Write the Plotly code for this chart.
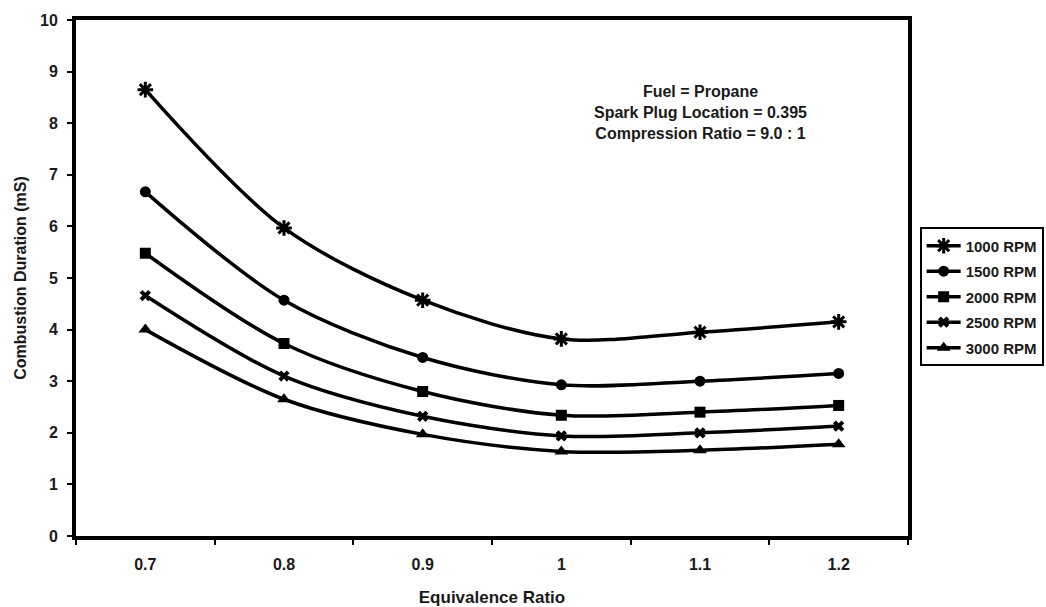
import plotly.graph_objects as go

# Equivalence ratio categories (x axis)
equivalence_ratio = ["0.7", "0.8", "0.9", "1", "1.1", "1.2"]

# Combustion duration (mS) per engine speed
rpm_1000 = [8.65, 5.97, 4.57, 3.82, 3.95, 4.15]
rpm_1500 = [6.67, 4.57, 3.46, 2.93, 3.00, 3.15]
rpm_2000 = [5.48, 3.73, 2.80, 2.34, 2.40, 2.53]
rpm_2500 = [4.66, 3.10, 2.32, 1.94, 2.00, 2.13]
rpm_3000 = [4.00, 2.65, 1.97, 1.64, 1.66, 1.78]

series_names = ["1000 RPM", "1500 RPM", "2000 RPM", "2500 RPM", "3000 RPM"]
series_values = [rpm_1000, rpm_1500, rpm_2000, rpm_2500, rpm_3000]

y_ticks = list(range(0, 11))

# marker style per series: (symbol, size, outline width)
marker_styles = [
    ("asterisk-open", 13, 3),
    ("circle", 11, 0),
    ("square", 11, 0),
    ("x", 10, 0),
    ("triangle-up", 12, 0),
]

FONT = "Liberation Sans, Arial, sans-serif"
INK = "#1a1a1a"


def bold(size):
    return dict(family=FONT, size=size, color=INK, weight="bold")


fig = go.Figure()
for name, vals, (sym, size, lw) in zip(series_names, series_values, marker_styles):
    marker = dict(symbol=sym, size=size, color="black")
    if lw:
        marker["line"] = dict(color="black", width=lw)
    fig.add_trace(go.Scatter(
        x=equivalence_ratio,
        y=vals,
        name=name,
        legendgroup=name,
        mode="lines+markers",
        line=dict(color="black", width=3.5, shape="spline", smoothing=0.9),
        marker=marker,
    ))

fig.add_annotation(
    xref="paper", yref="paper",
    x=0.751, y=0.882, xanchor="center", yanchor="top",
    text="Fuel = Propane<br>Spark Plug Location = 0.395<br>Compression Ratio = 9.0 : 1",
    showarrow=False, align="center",
    font=bold(16),
)

fig.update_layout(
    width=1046, height=607,
    margin=dict(l=76, r=138, t=20, b=71, autoexpand=False),
    paper_bgcolor="white", plot_bgcolor="white",
    font=bold(14),
    showlegend=True,
    legend=dict(
        x=1.014, y=0.598, xanchor="left", yanchor="top",
        bordercolor="black", borderwidth=2,
        font=bold(15),
        itemwidth=34, tracegroupgap=3,
        bgcolor="white",
    ),
)

fig.update_xaxes(
    type="category",
    categoryorder="array", categoryarray=equivalence_ratio,
    range=[-0.5, len(equivalence_ratio) - 0.5],
    showline=True, linecolor="black", linewidth=4, mirror=True,
    showgrid=False, zeroline=False,
    ticks="outside", tickson="boundaries", ticklen=5, tickwidth=2, tickcolor="black",
    ticklabelstandoff=11,
    tickfont=bold(16),
    title=dict(text="Equivalence Ratio", standoff=20, font=bold(17)),
)

fig.update_yaxes(
    range=[0, 10], tickvals=y_ticks,
    showline=True, linecolor="black", linewidth=4, mirror=True,
    showgrid=False, zeroline=False,
    ticks="outside", ticklen=5, tickwidth=2, tickcolor="black",
    ticklabelstandoff=6,
    tickfont=bold(16),
    title=dict(text="Combustion Duration (mS)", standoff=10, font=bold(16)),
)

fig.write_html("out.html")
